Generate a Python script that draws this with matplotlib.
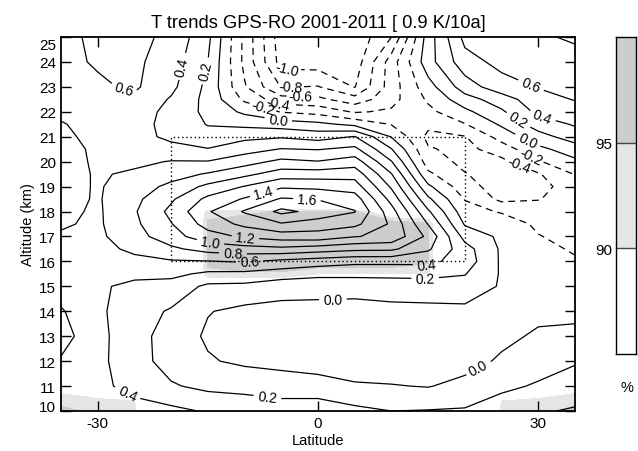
import numpy as np
import matplotlib.pyplot as plt
from matplotlib.transforms import ScaledTranslation

plt.rcParams['font.family'] = ['Liberation Sans', 'DejaVu Sans']
plt.rcParams['axes.unicode_minus'] = False

# grid of the trend field (finer in the tropopause layer)
lats = [-35, -30, -25, -20, -15, -10, -5, 0, 5, 10, 15, 20, 25, 30, 35]
alts = [10, 11, 12, 13, 14, 15, 15.5, 16, 16.5, 17, 17.5, 18, 18.5, 19, 19.5,
        20, 20.5, 21, 21.5, 22, 22.5, 23, 24, 25]

# temperature trend in K/10a, one row per altitude (10 km first)
trend = [
    # -35   -30   -25   -20   -15   -10    -5     0     5    10    15    20    25    30    35
    [0.48, 0.50, 0.45, 0.45, 0.38, 0.30, 0.30, 0.33, 0.25, 0.20, 0.21, 0.22, 0.30, 0.38, 0.42],
    [0.50, 0.43, 0.36, 0.22, 0.15, 0.15, 0.10, 0.07, 0.02, 0.01, -0.01, 0.06, 0.16, 0.22, 0.30],
    [0.58, 0.45, 0.28, 0.12, 0.02, -0.04, -0.06, -0.08, -0.10, -0.12, -0.12, -0.08, 0.03, 0.12, 0.18],
    [0.68, 0.46, 0.27, 0.12, -0.03, -0.08, -0.10, -0.12, -0.14, -0.15, -0.15, -0.12, -0.05, 0.03, 0.05],
    [0.62, 0.44, 0.28, 0.18, 0.01, -0.05, -0.06, -0.07, -0.08, -0.06, -0.05, -0.05, -0.04, -0.05, -0.05],
    [0.50, 0.43, 0.35, 0.32, 0.16, 0.15, 0.08, 0.08, 0.08, 0.10, 0.10, 0.12, -0.02, -0.08, -0.10],
    [0.50, 0.46, 0.45, 0.45, 0.36, 0.35, 0.30, 0.25, 0.25, 0.25, 0.26, 0.21, -0.02, -0.10, -0.14],
    [0.52, 0.50, 0.55, 0.58, 0.59, 0.62, 0.55, 0.50, 0.45, 0.45, 0.45, 0.31, -0.03, -0.12, -0.18],
    [0.55, 0.54, 0.64, 0.76, 0.88, 0.92, 0.95, 0.90, 0.85, 0.84, 0.63, 0.28, -0.03, -0.15, -0.22],
    [0.58, 0.56, 0.72, 0.92, 1.12, 1.23, 1.30, 1.32, 1.21, 1.15, 0.75, 0.13, -0.04, -0.19, -0.27],
    [0.62, 0.57, 0.76, 0.99, 1.28, 1.45, 1.58, 1.50, 1.45, 1.17, 0.59, -0.02, -0.08, -0.24, -0.29],
    [0.65, 0.57, 0.78, 1.05, 1.38, 1.62, 1.85, 1.74, 1.61, 1.08, 0.43, -0.12, -0.22, -0.30, -0.30],
    [0.67, 0.58, 0.75, 0.97, 1.25, 1.42, 1.62, 1.59, 1.50, 0.93, 0.24, -0.21, -0.45, -0.41, -0.30],
    [0.68, 0.58, 0.70, 0.85, 1.05, 1.21, 1.37, 1.35, 1.30, 0.77, 0.04, -0.32, -0.50, -0.48, -0.28],
    [0.68, 0.58, 0.63, 0.72, 0.82, 0.95, 1.10, 1.10, 1.12, 0.61, -0.16, -0.39, -0.50, -0.42, -0.19],
    [0.68, 0.57, 0.56, 0.61, 0.61, 0.72, 0.85, 0.81, 0.90, 0.41, -0.30, -0.45, -0.45, -0.22, -0.04],
    [0.66, 0.57, 0.50, 0.47, 0.41, 0.52, 0.61, 0.59, 0.65, 0.21, -0.38, -0.46, -0.30, -0.05, 0.10],
    [0.63, 0.56, 0.48, 0.35, 0.27, 0.35, 0.38, 0.32, 0.41, -0.01, -0.45, -0.41, -0.12, 0.12, 0.30],
    [0.61, 0.55, 0.48, 0.33, 0.19, 0.15, 0.10, 0.05, -0.05, -0.21, -0.35, -0.21, 0.03, 0.30, 0.42],
    [0.57, 0.52, 0.50, 0.34, 0.15, -0.04, -0.21, -0.27, -0.42, -0.37, -0.25, -0.05, 0.17, 0.45, 0.52],
    [0.56, 0.54, 0.56, 0.38, 0.14, -0.24, -0.52, -0.55, -0.72, -0.47, -0.17, 0.12, 0.30, 0.53, 0.61],
    [0.55, 0.57, 0.63, 0.45, 0.15, -0.38, -0.81, -0.79, -1.01, -0.50, -0.08, 0.30, 0.52, 0.61, 0.68],
    [0.55, 0.62, 0.64, 0.50, 0.20, -0.45, -1.08, -1.10, -1.12, -0.50, 0.12, 0.52, 0.66, 0.72, 0.75],
    [0.52, 0.66, 0.66, 0.55, 0.25, -0.45, -1.12, -1.18, -1.15, -0.80, 0.10, 0.66, 0.72, 0.78, 0.82],
]

# significance of the trend in %, same grid
sig = [
    [97, 93, 92, 50, 50, 50, 50, 50, 50, 50, 50, 50, 92, 93, 97],
    [87, 87, 87, 50, 50, 50, 50, 50, 50, 50, 50, 50, 87, 87, 87],
    [50, 50, 50, 50, 50, 50, 50, 50, 50, 50, 50, 50, 50, 50, 50],
    [50, 50, 50, 50, 50, 50, 50, 50, 50, 50, 50, 50, 50, 50, 50],
    [50, 50, 50, 50, 50, 50, 50, 50, 50, 50, 50, 50, 50, 50, 50],
    [50, 50, 50, 50, 80, 80, 80, 60, 60, 60, 60, 50, 50, 50, 50],
    [50, 50, 50, 50, 94, 94, 94, 90, 90, 90, 90, 50, 50, 50, 50],
    [50, 50, 50, 50, 96, 100, 100, 100, 100, 100, 96, 50, 50, 50, 50],
    [50, 50, 50, 50, 96, 100, 100, 100, 100, 100, 96, 50, 50, 50, 50],
    [50, 50, 50, 50, 96, 100, 100, 100, 100, 100, 96, 50, 50, 50, 50],
    [50, 50, 50, 50, 96, 100, 100, 100, 100, 100, 96, 50, 50, 50, 50],
    [50, 50, 50, 50, 93, 93, 96, 96, 96, 80, 80, 50, 50, 50, 50],
    [50, 50, 50, 50, 50, 50, 50, 50, 50, 50, 50, 50, 50, 50, 50],
    [50, 50, 50, 50, 50, 50, 50, 50, 50, 50, 50, 50, 50, 50, 50],
    [50, 50, 50, 50, 50, 50, 50, 50, 50, 50, 50, 50, 50, 50, 50],
    [50, 50, 50, 50, 50, 50, 50, 50, 50, 50, 50, 50, 50, 50, 50],
    [50, 50, 50, 50, 50, 50, 50, 50, 50, 50, 50, 50, 50, 50, 50],
    [50, 50, 50, 50, 50, 50, 50, 50, 50, 50, 50, 50, 50, 50, 50],
    [50, 50, 50, 50, 50, 50, 50, 50, 50, 50, 50, 50, 50, 50, 50],
    [50, 50, 50, 50, 50, 50, 50, 50, 50, 50, 50, 50, 50, 50, 50],
    [50, 50, 50, 50, 50, 50, 50, 50, 50, 50, 50, 50, 50, 50, 50],
    [50, 50, 50, 50, 50, 50, 50, 50, 50, 50, 50, 50, 50, 50, 50],
    [50, 50, 50, 50, 50, 50, 50, 50, 50, 50, 50, 50, 50, 50, 50],
    [50, 50, 50, 50, 50, 50, 50, 50, 50, 50, 50, 50, 50, 50, 50],
]

levels = [-1.0, -0.8, -0.6, -0.4, -0.2, 0.0, 0.2, 0.4, 0.6, 0.8, 1.0, 1.2, 1.4, 1.6, 1.8]
cb_bounds = [85, 90, 95, 100]
cb_colors = ['white', '#e6e6e6', '#cdcdcd']

# averaging box for the mean trend in the title
box_lat = [-20, 20]
box_alt = [16, 21]
mean_trend = 0.9

# contour labels: (level, lat, alt)
label_spec = [
    (0.6, -26.3, 23.0), (0.4, -16.8, 23.7), (0.2, -14.8, 23.6),
    (-1.0, -4.2, 23.45), (-0.8, -3.8, 23.0), (-0.6, -2.4, 22.6),
    (-0.4, -5.5, 22.3), (-0.2, -7.5, 22.2), (0.0, -5.4, 21.7),
    (1.4, -7.5, 18.8), (1.6, -1.5, 18.5),
    (1.0, -14.7, 16.6), (1.2, -9.9, 16.9), (0.8, -11.6, 16.2), (0.6, -9.3, 15.9),
    (0.4, 14.8, 16.0), (0.2, 14.6, 15.4), (0.0, 2.0, 14.7), (0.0, 21.0, 12.2),
    (0.4, -25.6, 10.9), (0.2, -6.8, 10.8),
    (0.6, 29.5, 23.4), (0.4, 31.3, 22.6), (0.2, 27.8, 21.9), (0.0, 28.8, 21.0),
    (-0.2, 29.5, 20.5), (-0.4, 27.5, 20.0),
]

fig = plt.figure(figsize=(6.38, 4.52), dpi=100)
ax = fig.add_axes([61 / 638, 40 / 452, 514 / 638, 374 / 452])

Z = np.array(trend)
S = np.array(sig)

# shaded significance
ax.contourf(lats, alts, S, levels=[90, 95, 101], colors=cb_colors[1:])

# trend isolines, negative ones dashed
styles = ['solid' if v >= 0 else (0, (5.5, 4.0)) for v in levels]
cs = ax.contour(lats, alts, Z, levels=levels, colors='k', linewidths=0.9, linestyles=styles)

# set up label properties for all levels, then place each label on its own level
cs.clabel(fmt='%.1f', fontsize=10, inline=True, inline_spacing=2, manual=[])
all_idx = list(cs.labelIndiceList)
for lv, x, y in label_spec:
    cs.labelIndiceList = [levels.index(lv)]
    cs.add_label_near(x, y, inline=True, inline_spacing=2)
cs.labelIndiceList = all_idx

# dotted averaging box
ax.plot([box_lat[0], box_lat[1], box_lat[1], box_lat[0], box_lat[0]],
        [box_alt[0], box_alt[0], box_alt[1], box_alt[1], box_alt[0]],
        ls=(0, (1, 2)), color='k', lw=1)

ax.set_xlim(-35, 35)
ax.set_ylim(10, 25)
ax.set_xticks([-30, 0, 30])
ax.set_yticks(range(10, 26))
ax.tick_params(direction='in', top=True, right=True, length=7, width=1, labelsize=11)
for s in ax.spines.values():
    s.set_linewidth(1.3)

# keep the end labels inside the frame
ylabels = ax.get_yticklabels()
ylabels[0].set_transform(ylabels[0].get_transform() + ScaledTranslation(0, 0.055, fig.dpi_scale_trans))
ylabels[-1].set_transform(ylabels[-1].get_transform() + ScaledTranslation(0, -0.07, fig.dpi_scale_trans))

ax.set_xlabel('Latitude', fontsize=10.5, labelpad=2)
ax.set_ylabel('Altitude (km)', fontsize=10.5, labelpad=3)
ax.set_title('T trends GPS-RO 2001-2011 [ %.1f K/10a]' % mean_trend, fontsize=13.2, pad=7)

# significance scale
cax = fig.add_axes([616 / 638, 97 / 452, 20 / 638, 317 / 452])
for lo, hi, c in zip(cb_bounds[:-1], cb_bounds[1:], cb_colors):
    cax.axhspan(lo, hi, color=c, lw=0)
for b in cb_bounds[1:-1]:
    cax.axhline(b, color='#444444', lw=1)
cax.set_xlim(0, 1)
cax.set_ylim(cb_bounds[0], cb_bounds[-1])
cax.set_xticks([])
cax.set_yticks(cb_bounds[1:-1])
cax.tick_params(length=0, labelsize=11, pad=3)
for s in cax.spines.values():
    s.set_linewidth(1.0)
fig.text(627 / 638, 1 - 388 / 452, '%', ha='center', va='center', fontsize=10.5)

fig.savefig('out.png', dpi=100)
